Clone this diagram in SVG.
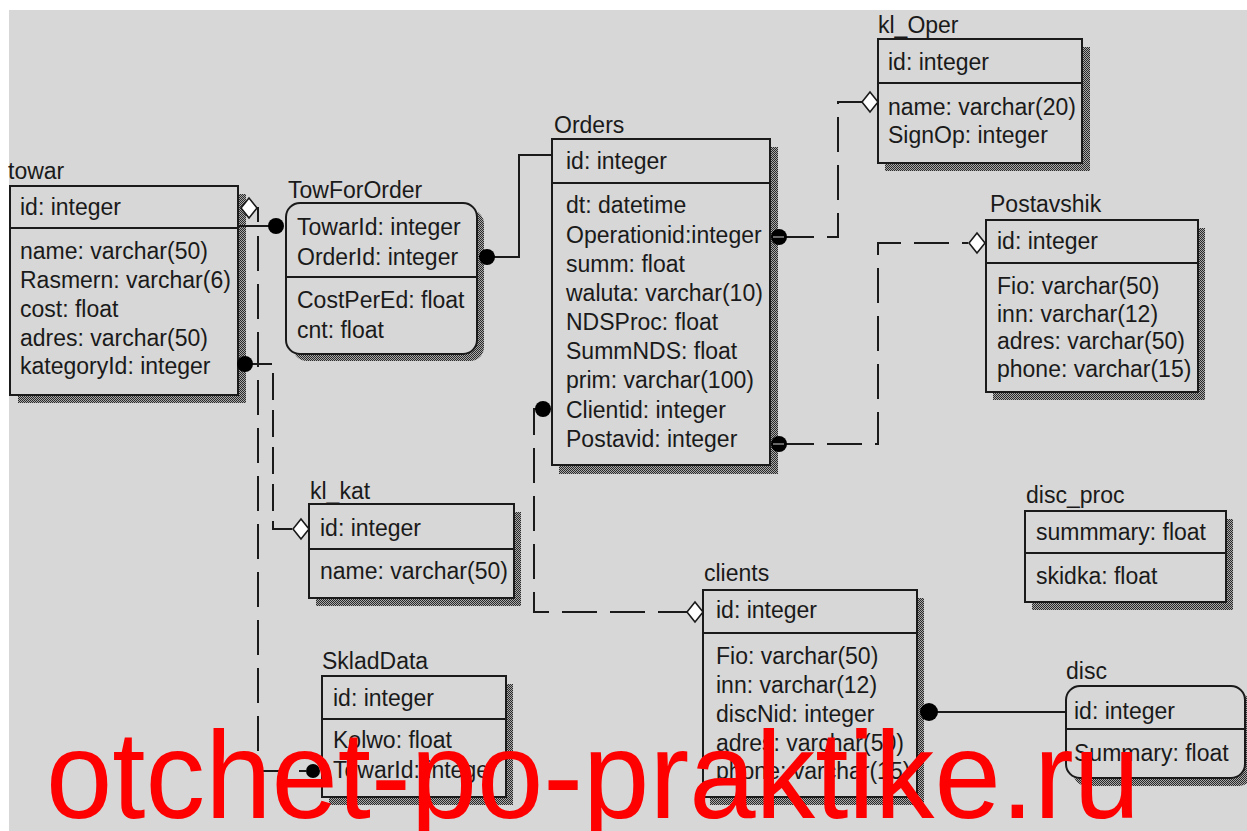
<svg xmlns="http://www.w3.org/2000/svg" width="1247" height="831" viewBox="0 0 1247 831">
<defs>
<pattern id="dots" width="2" height="2" patternUnits="userSpaceOnUse">
<rect width="2" height="2" fill="#a8a8a8"/>
<rect width="1" height="1" fill="#2a2a2a"/>
<rect x="1" y="1" width="1" height="1" fill="#2a2a2a"/>
</pattern>
<path id="dia" d="M-8,0 L0,-10 L8,0 L0,10 Z"/>
<style>
.t{font-family:"Liberation Sans",Arial,sans-serif;font-size:23px;fill:#1a1a1a}
.box{fill:#d7d7d7;stroke:#1a1a1a;stroke-width:2}
.sh{fill:url(#dots)}
.div{stroke:#1a1a1a;stroke-width:2}
.ln{fill:none;stroke:#1a1a1a;stroke-width:2}
.dash{fill:none;stroke:#1a1a1a;stroke-width:2;stroke-dasharray:35 13}
.dash2{fill:none;stroke:#1a1a1a;stroke-width:2;stroke-dasharray:27 10}
.dot{fill:#000}
.dm{fill:#fff;stroke:#1a1a1a;stroke-width:1.6}
.wm{font-family:"Liberation Sans",Arial,sans-serif;font-size:125px;fill:#ff0000}
</style>
</defs>
<rect width="1247" height="831" fill="#ffffff"/>
<rect x="9" y="10" width="1238" height="821" fill="#d7d7d7"/>

<g id="towar">
<rect class="sh" x="18" y="194" width="228" height="209"/>
<rect class="box" x="10" y="186" width="228" height="209"/>
<line class="div" x1="10" y1="228" x2="238" y2="228"/>
<text class="t" x="8" y="179">towar</text>
<text class="t" x="20" y="215">id: integer</text>
<text class="t" x="20" y="259">name: varchar(50)</text>
<text class="t" x="20" y="288">Rasmern: varchar(6)</text>
<text class="t" x="20" y="317">cost: float</text>
<text class="t" x="20" y="346">adres: varchar(50)</text>
<text class="t" x="20" y="374">kategoryId: integer</text>
</g>

<g id="TowForOrder">
<rect class="sh" x="293" y="210" width="191" height="151" rx="14"/>
<rect class="box" x="286" y="203" width="191" height="151" rx="14"/>
<line class="div" x1="286" y1="277" x2="477" y2="277"/>
<text class="t" x="288" y="198">TowForOrder</text>
<text class="t" x="297" y="235">TowarId: integer</text>
<text class="t" x="297" y="265">OrderId: integer</text>
<text class="t" x="297" y="308">CostPerEd: float</text>
<text class="t" x="297" y="338">cnt: float</text>
</g>

<g id="Orders">
<rect class="sh" x="559" y="147" width="219" height="327"/>
<rect class="box" x="552" y="139" width="218" height="326"/>
<line class="div" x1="552" y1="183" x2="770" y2="183"/>
<text class="t" x="554" y="133">Orders</text>
<text class="t" x="566" y="169">id: integer</text>
<text class="t" x="566" y="213">dt: datetime</text>
<text class="t" x="566" y="243">Operationid:integer</text>
<text class="t" x="566" y="272">summ: float</text>
<text class="t" x="566" y="301">waluta: varchar(10)</text>
<text class="t" x="566" y="330">NDSProc: float</text>
<text class="t" x="566" y="359">SummNDS: float</text>
<text class="t" x="566" y="388">prim: varchar(100)</text>
<text class="t" x="566" y="418">Clientid: integer</text>
<text class="t" x="566" y="447">Postavid: integer</text>
</g>

<g id="kl_Oper">
<rect class="sh" x="885" y="47" width="205" height="124"/>
<rect class="box" x="878" y="39" width="204" height="124"/>
<line class="div" x1="878" y1="83" x2="1082" y2="83"/>
<text class="t" x="878" y="33">kl_Oper</text>
<text class="t" x="888" y="70">id: integer</text>
<text class="t" x="888" y="115">name: varchar(20)</text>
<text class="t" x="888" y="143">SignOp: integer</text>
</g>

<g id="Postavshik">
<rect class="sh" x="993" y="228" width="212" height="172"/>
<rect class="box" x="986" y="220" width="212" height="172"/>
<line class="div" x1="986" y1="263" x2="1198" y2="263"/>
<text class="t" x="990" y="212">Postavshik</text>
<text class="t" x="997" y="249">id: integer</text>
<text class="t" x="997" y="294">Fio: varchar(50)</text>
<text class="t" x="997" y="322">inn: varchar(12)</text>
<text class="t" x="997" y="349">adres: varchar(50)</text>
<text class="t" x="997" y="377">phone: varchar(15)</text>
</g>

<g id="kl_kat">
<rect class="sh" x="316" y="512" width="205" height="94"/>
<rect class="box" x="309" y="504" width="205" height="94"/>
<line class="div" x1="309" y1="549" x2="514" y2="549"/>
<text class="t" x="310" y="499">kl_kat</text>
<text class="t" x="320" y="536">id: integer</text>
<text class="t" x="320" y="579">name: varchar(50)</text>
</g>

<g id="SkladData">
<rect class="sh" x="329" y="684" width="184" height="121"/>
<rect class="box" x="322" y="676" width="184" height="121"/>
<line class="div" x1="322" y1="719" x2="506" y2="719"/>
<text class="t" x="322" y="669">SkladData</text>
<text class="t" x="333" y="706">id: integer</text>
<text class="t" x="333" y="748">Kolwo: float</text>
<text class="t" x="333" y="778">TowarId: integer</text>
</g>

<g id="clients">
<rect class="sh" x="710" y="598" width="214" height="207"/>
<rect class="box" x="703" y="590" width="214" height="207"/>
<line class="div" x1="703" y1="633" x2="917" y2="633"/>
<text class="t" x="704" y="581">clients</text>
<text class="t" x="716" y="618">id: integer</text>
<text class="t" x="716" y="664">Fio: varchar(50)</text>
<text class="t" x="716" y="693">inn: varchar(12)</text>
<text class="t" x="716" y="722">discNid: integer</text>
<text class="t" x="716" y="751">adres: varchar(50)</text>
<text class="t" x="716" y="779">phone: varchar(15)</text>
</g>

<g id="disc_proc">
<rect class="sh" x="1032" y="519" width="201" height="91"/>
<rect class="box" x="1025" y="511" width="201" height="91"/>
<line class="div" x1="1025" y1="553" x2="1226" y2="553"/>
<text class="t" x="1026" y="503">disc_proc</text>
<text class="t" x="1036" y="540">summmary: float</text>
<text class="t" x="1036" y="584">skidka: float</text>
</g>

<g id="disc">
<rect class="sh" x="1073" y="694" width="180" height="92" rx="14"/>
<rect class="box" x="1066" y="686" width="179" height="92" rx="14"/>
<line class="div" x1="1066" y1="729" x2="1245" y2="729"/>
<text class="t" x="1066" y="679">disc</text>
<text class="t" x="1074" y="719">id: integer</text>
<text class="t" x="1074" y="761">Summary: float</text>
</g>

<g id="connectors">
<path class="ln" d="M238,226 H276"/>
<circle class="dot" cx="276" cy="226" r="8"/>
<path class="ln" d="M257,208 H258 V222"/>
<path class="dash" d="M258,236 V771 H306"/>
<use href="#dia" class="dm" x="249" y="208"/>
<circle class="dot" cx="313" cy="771" r="7"/>
<path class="dash2" d="M245,364 H273 V529 H293"/>
<circle class="dot" cx="245" cy="364" r="8"/>
<use href="#dia" class="dm" x="301" y="529"/>
<path class="ln" d="M487,257 H519 V155 H552"/>
<circle class="dot" cx="487" cy="257" r="8"/>
<path class="dash" d="M779,237 H838 V102 H862"/>
<circle class="dot" cx="779" cy="237" r="8"/>
<line x1="773" y1="237" x2="784" y2="237" stroke="#8a8a8a" stroke-width="1.5"/>
<use href="#dia" class="dm" x="870" y="102"/>
<path class="dash" d="M779,444 H878 V243 H968"/>
<circle class="dot" cx="779" cy="444" r="8"/>
<line x1="773" y1="444" x2="784" y2="444" stroke="#8a8a8a" stroke-width="1.5"/>
<use href="#dia" class="dm" x="977" y="243"/>
<path class="dash" d="M543,409 H534 V612 H687"/>
<circle class="dot" cx="543" cy="409" r="8"/>
<use href="#dia" class="dm" x="695" y="612"/>
<path class="ln" d="M929,712 H1066"/>
<circle class="dot" cx="929" cy="712" r="9"/>
</g>

<text class="wm" x="46" y="818" textLength="1094" lengthAdjust="spacingAndGlyphs">otchet-po-praktike.ru</text>
</svg>
